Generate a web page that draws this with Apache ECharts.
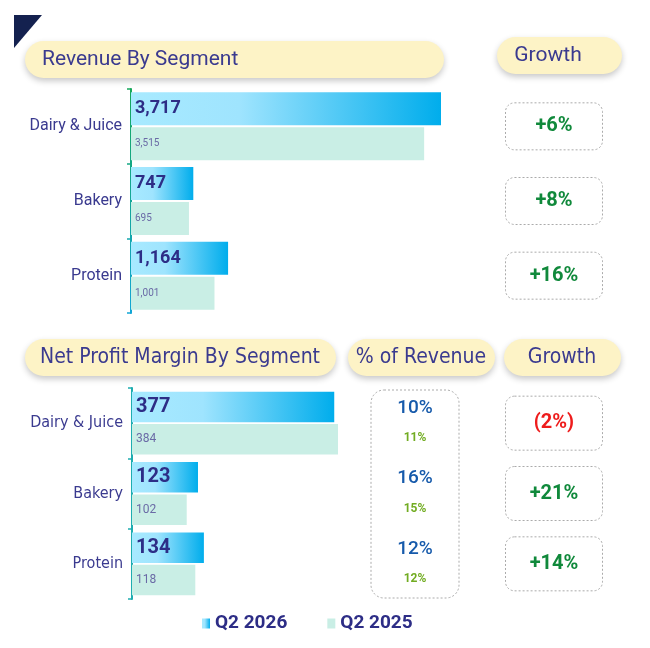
<!DOCTYPE html>
<html>
<head>
<meta charset="utf-8">
<script src="https://cdn.jsdelivr.net/npm/echarts@6/dist/echarts.min.js"></script>
<style>
  html, body { margin: 0; padding: 0; background: #fff; }
  #main { width: 650px; height: 648px; }
</style>
</head>
<body>
<div id="main"></div>
<script>
var categories = ['Dairy & Juice', 'Bakery', 'Protein'];
var revenue2026 = [3717, 747, 1164];
var revenue2025 = [3515, 695, 1001];
var profit2026 = [377, 123, 134];
var profit2025 = [384, 102, 118];
var pctRevenue2026 = [10, 16, 12];
var pctRevenue2025 = [11, 15, 12];
var revenueGrowth = ['+6%', '+8%', '+16%'];
var profitGrowth = ['(2%)', '+21%', '+14%'];
var seriesNames = ['Q2 2026', 'Q2 2025'];

var NARROW = "'DejaVu Sans Condensed', Roboto, sans-serif";
var ROBO = 'Roboto, sans-serif';
var INK = '#3a3a8f';
var NAVY = '#2d2d86';

function fmt(v) { return v.toLocaleString('en-US'); }

var blueGrad = new echarts.graphic.LinearGradient(0, 0, 1, 0, [
    { offset: 0, color: '#a8eaff' },
    { offset: 0.35, color: '#9fe4fe' },
    { offset: 1, color: '#00adec' }
]);
var mint = '#c9eee5';

function pill(x, y, w, h, label, tx, align, font) {
    return [
        {
            type: 'rect',
            shape: { x: x, y: y, width: w, height: h, r: h / 2 },
            style: { fill: '#fdf3c6', shadowBlur: 6, shadowOffsetY: 3, shadowColor: 'rgba(0,0,0,0.22)' }
        },
        {
            type: 'text',
            style: {
                text: label, x: tx, y: y + h / 2, fill: INK,
                fontSize: 21, fontFamily: font, align: align, verticalAlign: 'middle'
            }
        }
    ];
}

function catAxis(grid, showIt, axisColor, font) {
    return {
        type: 'category', gridIndex: grid, inverse: true, data: categories,
        show: showIt,
        axisLine: { show: true, lineStyle: { color: axisColor, width: 2 } },
        axisTick: { show: true, length: 4, lineStyle: { color: axisColor, width: 1.5 } },
        axisLabel: { margin: 9, fontSize: 16, color: INK, fontFamily: font },
        splitLine: { show: false }
    };
}

// invisible points that only carry a label
function textPoints(grid, list) {
    return list.map(function (v, i) { return [0.5, categories[i]]; });
}

function growthSeries(grid, list, boxH) {
    return {
        type: 'scatter', xAxisIndex: grid, yAxisIndex: grid,
        symbolSize: 1, itemStyle: { color: 'rgba(0,0,0,0)', opacity: 1 },
        silent: true,
        data: list.map(function (g, i) {
            return {
                value: [0.5, categories[i]],
                label: { color: g.charAt(0) === '(' ? '#ee1c1c' : '#10893b' }
            };
        }),
        label: {
            show: true, position: 'inside',
            formatter: function (p) { return list[p.dataIndex]; },
            width: 97, height: boxH, lineHeight: boxH,
            align: 'center', verticalAlign: 'middle',
            borderColor: '#ababab', borderWidth: 1, borderType: [2, 2], borderRadius: 9,
            fontSize: 20, fontWeight: 'bold', fontFamily: ROBO
        }
    };
}

var chart = echarts.init(document.getElementById('main'));

var option = {
    backgroundColor: '#fff',
    animation: false,
    legend: {
        data: [
            { name: seriesNames[0], icon: 'rect' },
            { name: seriesNames[1], icon: 'rect' }
        ],
        left: 197, top: 609, itemWidth: 8, itemHeight: 10, itemGap: 40,
        textStyle: { fontSize: 19, fontWeight: 'bold', color: NAVY, fontFamily: ROBO }
    },
    grid: [
        { left: 131, top: 89, width: 310, height: 224 },
        { left: 132, top: 388, width: 206, height: 211 },
        { left: 505, top: 89, width: 98, height: 224 },
        { left: 371, top: 388, width: 88, height: 211 },
        { left: 505, top: 388, width: 98, height: 211 }
    ],
    xAxis: [
        { type: 'value', gridIndex: 0, min: 0, max: 'dataMax', show: false },
        { type: 'value', gridIndex: 1, min: 0, max: 'dataMax', show: false },
        { type: 'value', gridIndex: 2, min: 0, max: 1, show: false },
        { type: 'value', gridIndex: 3, min: 0, max: 1, show: false },
        { type: 'value', gridIndex: 4, min: 0, max: 1, show: false }
    ],
    yAxis: [
        catAxis(0, true, {
            type: 'linear', x: 0, y: 89, x2: 0, y2: 313, global: true,
            colorStops: [{ offset: 0, color: '#16a85a' }, { offset: 1, color: '#12a6d6' }]
        }, ROBO),
        catAxis(1, true, '#1eadb0', NARROW),
        catAxis(2, false, '#fff', NARROW),
        catAxis(3, false, '#fff', NARROW),
        catAxis(4, false, '#fff', NARROW)
    ],
    series: [
        {
            name: seriesNames[0], type: 'bar', xAxisIndex: 0, yAxisIndex: 0,
            data: revenue2026, barWidth: 33, barGap: '6%',
            itemStyle: { color: blueGrad },
            label: {
                show: true, position: 'insideLeft', distance: 4,
                formatter: function (p) { return fmt(p.value); },
                fontSize: 18, fontWeight: 'bold', color: NAVY, fontFamily: ROBO
            }
        },
        {
            name: seriesNames[1], type: 'bar', xAxisIndex: 0, yAxisIndex: 0,
            data: revenue2025, barWidth: 33, barGap: '6%',
            itemStyle: { color: mint },
            label: {
                show: true, position: 'insideLeft', distance: 4,
                formatter: function (p) { return fmt(p.value); },
                fontSize: 10, color: '#6a6aa6', fontFamily: ROBO
            }
        },
        {
            name: seriesNames[0], type: 'bar', xAxisIndex: 1, yAxisIndex: 1,
            data: profit2026, barWidth: 30.5, barGap: '6%',
            itemStyle: { color: blueGrad },
            label: {
                show: true, position: 'insideLeft', distance: 4,
                formatter: function (p) { return fmt(p.value); },
                fontSize: 20, fontWeight: 'bold', color: NAVY, fontFamily: ROBO
            }
        },
        {
            name: seriesNames[1], type: 'bar', xAxisIndex: 1, yAxisIndex: 1,
            data: profit2025, barWidth: 30.5, barGap: '6%',
            itemStyle: { color: mint },
            label: {
                show: true, position: 'insideLeft', distance: 4,
                formatter: function (p) { return fmt(p.value); },
                fontSize: 12, color: '#6a6aa6', fontFamily: ROBO
            }
        },
        {
            type: 'scatter', xAxisIndex: 3, yAxisIndex: 3, silent: true,
            symbolSize: 1, itemStyle: { color: 'rgba(0,0,0,0)', opacity: 1 },
            data: textPoints(3, pctRevenue2026),
            label: {
                show: true, position: 'inside', offset: [0, -15],
                formatter: function (p) { return pctRevenue2026[p.dataIndex] + '%'; },
                fontSize: 19, fontWeight: 500, color: '#165aab', fontFamily: ROBO
            }
        },
        {
            type: 'scatter', xAxisIndex: 3, yAxisIndex: 3, silent: true,
            symbolSize: 1, itemStyle: { color: 'rgba(0,0,0,0)', opacity: 1 },
            data: textPoints(3, pctRevenue2025),
            label: {
                show: true, position: 'inside', offset: [0, 15],
                formatter: function (p) { return pctRevenue2025[p.dataIndex] + '%'; },
                fontSize: 12, fontWeight: 'bold', color: '#72ac22', fontFamily: ROBO
            }
        },
        growthSeries(2, revenueGrowth, 47),
        growthSeries(4, profitGrowth, 54)
    ],
    graphic: [
        {
            type: 'polygon',
            shape: { points: [[14, 15], [42, 15], [14, 48]] },
            style: { fill: '#14214f' }
        },
        {
            type: 'rect',
            shape: { x: 371, y: 390, width: 88, height: 208, r: 13 },
            style: { fill: 'none', stroke: '#ababab', lineWidth: 1, lineDash: [2, 2] }
        }
    ]
        .concat(pill(25, 41, 419, 37, 'Revenue By Segment', 42, 'left', ROBO))
        .concat(pill(497, 37, 125, 37, 'Growth', 548, 'center', ROBO))
        .concat(pill(25, 339, 311, 37, 'Net Profit Margin By Segment', 40, 'left', NARROW))
        .concat(pill(348, 339, 147, 37, '% of Revenue', 421, 'center', NARROW))
        .concat(pill(504, 339, 117, 37, 'Growth', 562, 'center', NARROW))
};

chart.setOption(option);
</script>
</body>
</html>
